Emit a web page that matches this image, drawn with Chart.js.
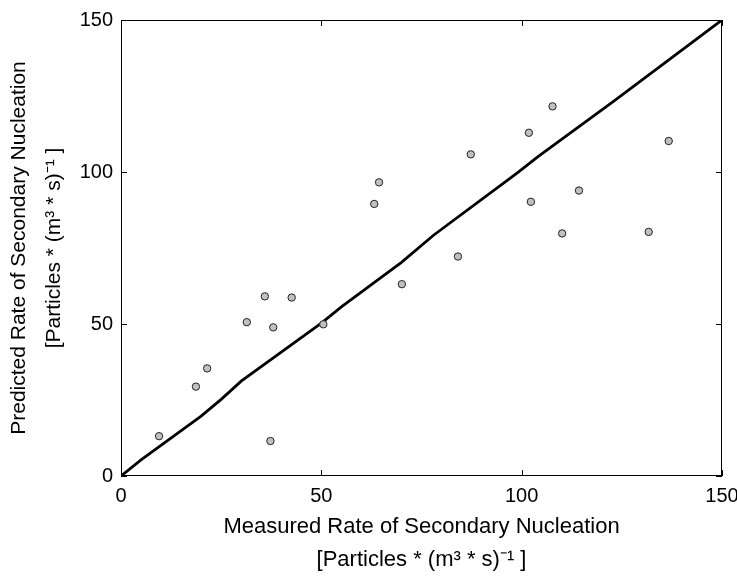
<!DOCTYPE html>
<html>
<head>
<meta charset="utf-8">
<script src="https://cdn.jsdelivr.net/npm/chart.js@4/dist/chart.umd.min.js"></script>
<style>
html,body{margin:0;padding:0;background:#fff;}
#wrap{width:737px;height:576px;}
</style>
</head>
<body>
<div id="wrap"><canvas id="c"></canvas></div>
<script>
const measured  = [9.5, 18.7, 21.5, 31.4, 35.9, 37.3, 38.0, 42.6, 50.5, 63.2, 64.4, 70.1, 84.1, 87.3, 101.8, 102.3, 107.7, 110.1, 114.3, 131.7, 136.7];
const predicted = [13.1, 29.4, 35.4, 50.6, 59.1, 11.5, 48.9, 58.7, 49.9, 89.5, 96.6, 63.1, 72.2, 105.8, 112.9, 90.2, 121.6, 79.8, 93.9, 80.3, 110.2];
const lineX = [0, 5, 20, 25, 30, 50, 55, 70, 78, 99, 104, 123, 150];
const lineY = [0, 5.3, 19.7, 25.2, 31.2, 50.3, 55.6, 70.3, 79.2, 99.8, 105, 123.3, 150];
const tickValues = [0, 50, 100, 150];
const xTitle = ['Measured Rate of Secondary Nucleation', '[Particles * (m\u00B3 * s)\u207B\u00B9 ]'];
const yTitle = ['Predicted Rate of Secondary Nucleation', '[Particles * (m\u00B3 * s)\u207B\u00B9 ]'];

const FONT = "'Liberation Sans', Arial, Helvetica, sans-serif";

const boxPlugin = {
  id: 'box',
  afterDatasetsDraw(chart) {
    const {ctx, chartArea: a, scales: {x, y}} = chart;
    ctx.save();
    ctx.strokeStyle = '#000';
    ctx.lineWidth = 1;
    ctx.strokeRect(a.left + 0.5, a.top + 0.5, a.right - a.left - 1, a.bottom - a.top - 1);
    const L = 6;
    ctx.beginPath();
    tickValues.forEach(v => {
      const px = Math.round(x.getPixelForValue(v)) + 0.5;
      ctx.moveTo(px, a.bottom); ctx.lineTo(px, a.bottom - L);
      ctx.moveTo(px, a.top); ctx.lineTo(px, a.top + L);
      const py = Math.round(y.getPixelForValue(v)) + 0.5;
      ctx.moveTo(a.left, py); ctx.lineTo(a.left + L, py);
      ctx.moveTo(a.right, py); ctx.lineTo(a.right - L, py);
    });
    ctx.stroke();
    ctx.restore();
  }
};

new Chart(document.getElementById('c'), {
  type: 'scatter',
  data: {
    datasets: [
      {
        type: 'line',
        data: lineX.map((v, i) => ({x: v, y: lineY[i]})),
        borderColor: '#000',
        borderWidth: 2.8,
        pointRadius: 0,
        tension: 0,
        fill: false,
        order: 2
      },
      {
        data: measured.map((v, i) => ({x: v, y: predicted[i]})),
        pointRadius: 3.7,
        pointBackgroundColor: '#c0c0c0',
        pointBorderColor: '#222',
        pointBorderWidth: 1,
        order: 1
      }
    ]
  },
  options: {
    responsive: true,
    maintainAspectRatio: false,
    animation: false,
    layout: {padding: {top: 19, right: 0, left: 0, bottom: 0}},
    plugins: {legend: {display: false}, tooltip: {enabled: false}},
    scales: {
      x: {
        type: 'linear', min: 0, max: 150,
        afterBuildTicks: s => { s.ticks = tickValues.map(v => ({value: v})); },
        afterFit: s => { s.height = 100; s.paddingRight = 15; s.paddingLeft = 0; },
        grid: {display: false, drawTicks: false},
        border: {display: false},
        ticks: {color: '#000', font: {family: FONT, size: 20}, padding: 8, maxRotation: 0},
        title: {display: true, text: xTitle, color: '#000', font: {family: FONT, size: 22, lineHeight: 1.5}, padding: {top: 0, bottom: 0}}
      },
      y: {
        type: 'linear', min: 0, max: 150,
        afterBuildTicks: s => { s.ticks = tickValues.map(v => ({value: v})); },
        afterFit: s => { s.width = 121; },
        grid: {display: false, drawTicks: false},
        border: {display: false},
        ticks: {color: '#000', font: {family: FONT, size: 20}, padding: 8},
        title: {display: true, text: yTitle, color: '#000', font: {family: FONT, size: 21, lineHeight: 1.67}, padding: {top: 2, bottom: 0}}
      }
    }
  },
  plugins: [boxPlugin]
});
</script>
</body>
</html>
